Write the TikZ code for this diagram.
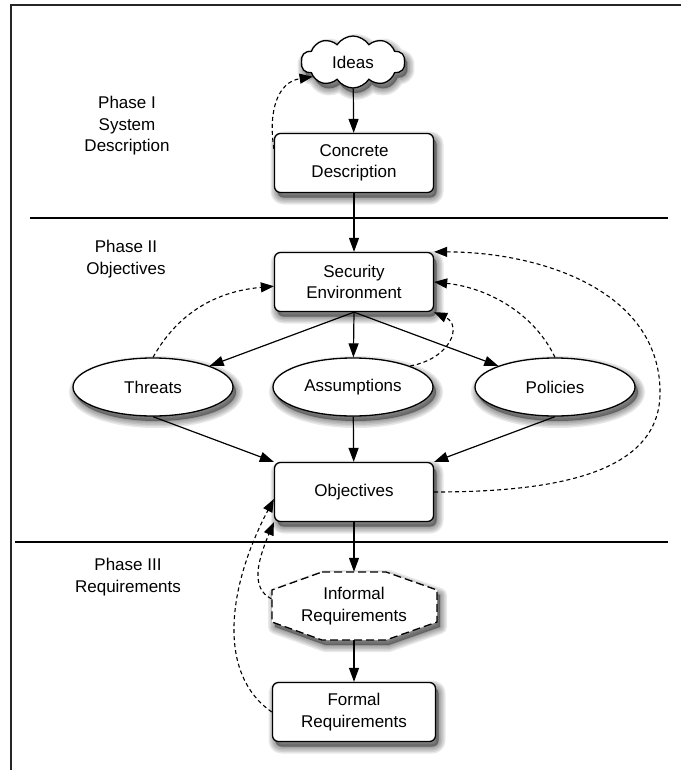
\documentclass[tikz,border=0pt]{standalone}
\usepackage{fontspec}
\setmainfont{Liberation Sans}
\usetikzlibrary{arrows.meta,shapes.geometric,shapes.symbols,shadows,calc}
\tikzset{
  shlayer/.style={general shadow={shadow xshift=3pt,shadow yshift=-5pt,solid,fill=black,draw=black,opacity=0.09,line width=#1,line join=round}},
  shad/.style={shlayer=14pt,shlayer=11pt,shlayer=8pt,shlayer=5pt,shlayer=2pt},
}
\begin{document}
\begin{tikzpicture}[x=1pt,y=-1pt,
  font=\fontsize{17}{21.5}\selectfont,
  box/.style={draw,line width=1.3pt,fill=white,rounded corners=6pt,minimum width=159pt,minimum height=59pt,align=center,inner sep=0pt,shad},
  ell/.style={draw,ellipse,line width=1.3pt,fill=white,minimum width=160pt,minimum height=58pt,inner sep=0pt,shad},
  sol/.style={line width=1.2pt,-{Triangle[length=14pt,width=10pt]}},
  dsh/.style={line width=1.1pt,dash pattern=on 4pt off 3pt,-{Triangle[length=13pt,width=10pt]}},
  lbl/.style={align=center,inner sep=0pt},
]
\useasboundingbox (0,0) rectangle (681,770);
% frame and separators
\draw[line width=2pt,black!85] (681,5) -- (11,5) -- (11,770);
\draw[line width=1.2pt] (30,218) -- (668,218);
\draw[line width=1.2pt] (15,542) -- (668,542);
% phase labels
\node[lbl] (p1) at (127,126) {Phase I\\System\\Description};
\node[lbl] (p2) at (126,259) {Phase II\\Objectives};
\node[lbl] (p3) at (128,577) {Phase III\\Requirements};
% nodes
\node[cloud,cloud puffs=10,cloud puff arc=115,aspect=2.2,draw,line width=1.3pt,fill=white,minimum width=104pt,minimum height=52pt,inner sep=0pt,shad] (ideas) at (353,62) {Ideas};
\node[box] (cd) at (354,163) {Concrete\\Description};
\node[box] (se) at (354,282) {Security\\Environment};
\node[ell] (threats) at (153,387) {Threats};
\node[ell] (assum) at (353,387) {Assumptions};
\node[ell] (pol) at (555,387) {Policies};
\node[box] (obj) at (354,492) {Objectives};
\filldraw[fill=white,line width=1.3pt,dash pattern=on 8pt off 4pt,shad]
  (322,572) -- (386,572) -- (437,590) -- (437,622) -- (386,640) -- (322,640) -- (272,622) -- (272,590) -- cycle;
\node[lbl,minimum width=165pt,minimum height=68pt] (ir) at (354,606) {Informal\\Requirements};
\node[box,minimum width=163pt] (fr) at (354,712) {Formal\\Requirements};
% solid connectors
\draw[sol] (ideas) -- (cd);
\draw[sol] (cd) -- (se);
\draw[sol] (se.south) -- (threats);
\draw[sol] (se.south) -- (assum);
\draw[sol] (se.south) -- (pol);
\draw[sol] (threats.south) -- (obj.north west);
\draw[sol] (assum) -- (obj);
\draw[sol] (pol.south) -- (obj.north east);
\draw[sol] (obj) -- (ir);
\draw[sol] (ir) -- (fr);
% dashed connectors
\draw[dsh] (cd.170) .. controls (268,110) and (278,82) .. (ideas.200);
\draw[dsh] (threats.north) .. controls (175,318) and (210,292) .. (se.183);
\draw[dsh] (assum.north east) .. controls (452,358) and (462,325) .. (se.south east);
\draw[dsh] (pol.north) .. controls (535,315) and (490,288) .. (se.east);
\draw[dsh] (obj.east) .. controls (560,492) and (662,472) .. (660,390) .. controls (658,290) and (540,252) .. (se.north east);
\draw[dsh] (ir.175) .. controls (250,588) and (258,560) .. (obj.south west);
\draw[dsh] (fr.west) .. controls (218,675) and (226,590) .. (obj.185);
\end{tikzpicture}
\end{document}
